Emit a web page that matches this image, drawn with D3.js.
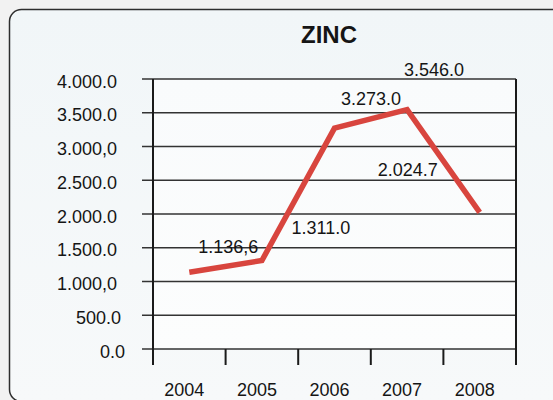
<!DOCTYPE html>
<html>
<head>
<meta charset="utf-8">
<script src="https://cdn.jsdelivr.net/npm/d3@7"></script>
<style>
  html, body { margin: 0; padding: 0; background: #f3f3f3; }
  svg { display: block; }
  text { font-family: "Liberation Sans", Arial, Helvetica, sans-serif; fill: #151515; }
</style>
</head>
<body>
<svg id="chart" width="553" height="400"></svg>
<script>
// Zinc, yearly figures
const title = "ZINC";
const years = ["2004", "2005", "2006", "2007", "2008"];
const values = [1136.6, 1311.0, 3273.0, 3546.0, 2024.7];
const valueLabels = ["1.136,6", "1.311.0", "3.273.0", "3.546.0", "2.024.7"];
const yTicks = [0, 500, 1000, 1500, 2000, 2500, 3000, 3500, 4000];
const yTickLabels = ["0.0", "500.0", "1.000,0", "1.500.0", "2.000.0", "2.500.0", "3.000,0", "3.500.0", "4.000.0"];

const svg = d3.select("#chart");
const W = 553, H = 400;

// plot frame
const plotLeft = 153, plotRight = 516, plotTop = 79, plotBottom = 349;
const tickDrop = 16, gridStart = 142;

const defs = svg.append("defs");
const bg = defs.append("linearGradient").attr("id", "panelBg")
  .attr("x1", 0).attr("y1", 0).attr("x2", 0).attr("y2", 1);
bg.append("stop").attr("offset", "0%").attr("stop-color", "#f1f6f8");
bg.append("stop").attr("offset", "100%").attr("stop-color", "#f7f9fa");

const plotBg = defs.append("linearGradient").attr("id", "plotBg")
  .attr("x1", 0).attr("y1", 0).attr("x2", 0).attr("y2", 1);
plotBg.append("stop").attr("offset", "0%").attr("stop-color", "#f9fbfc");
plotBg.append("stop").attr("offset", "100%").attr("stop-color", "#fcfdfd");

// outer backdrop
svg.append("rect").attr("width", W).attr("height", H).attr("fill", "#f2f2f2");

// rounded panel
svg.append("rect")
  .attr("x", 9.5).attr("y", 9.5)
  .attr("width", 620).attr("height", 392)
  .attr("rx", 12).attr("ry", 12)
  .attr("fill", "url(#panelBg)")
  .attr("stroke", "#2e2e2e").attr("stroke-width", 1.5);

const x = d3.scaleBand().domain(years).range([plotLeft, plotRight]).paddingInner(0).paddingOuter(0);
const y = d3.scaleLinear().domain([0, 4000]).range([plotBottom, plotTop]);

svg.append("rect")
  .attr("x", plotLeft).attr("y", y(4000))
  .attr("width", plotRight - plotLeft).attr("height", y(0) - y(4000))
  .attr("fill", "url(#plotBg)");

// title
svg.append("text")
  .attr("x", 329).attr("y", 43)
  .attr("text-anchor", "middle")
  .attr("font-size", 24).attr("font-weight", "bold")
  .text(title);

// horizontal grid lines with left tick stubs
svg.append("g").selectAll("line").data(yTicks).join("line")
  .attr("x1", gridStart).attr("x2", plotRight)
  .attr("y1", d => y(d)).attr("y2", d => y(d))
  .attr("stroke", "#333").attr("stroke-width", 1.6);

// y axis labels
svg.append("g").selectAll("text").data(yTicks).join("text")
  .attr("x", (d, i) => 117 + (7 - yTickLabels[i].length) * 2)
  .attr("y", d => y(d) + 8.7)
  .attr("text-anchor", "end")
  .attr("font-size", 18)
  .text((d, i) => yTickLabels[i]);

// category boundary ticks
const bounds = years.map(d => x(d)).concat([plotRight]);
svg.append("g").selectAll("line").data(bounds).join("line")
  .attr("x1", d => d).attr("x2", d => d)
  .attr("y1", (d, i) => (i === 0 || i === bounds.length - 1) ? y(4000) : y(0))
  .attr("y2", y(0) + tickDrop)
  .attr("stroke", "#1a1a1a").attr("stroke-width", 2);

// x axis labels
svg.append("g").selectAll("text").data(years).join("text")
  .attr("x", d => x(d) + x.bandwidth() / 2 - 5)
  .attr("y", 396)
  .attr("text-anchor", "middle")
  .attr("font-size", 18)
  .text(d => d);

// series line
const pts = years.map((d, i) => [x(d) + x.bandwidth() / 2, y(values[i])]);
svg.append("path")
  .attr("d", d3.line()(pts))
  .attr("fill", "none")
  .attr("stroke", "#d8453e")
  .attr("stroke-width", 5.5)
  .attr("stroke-linejoin", "miter");

// value labels, offset from their points
const labelShift = [[39, -19], [59, -27], [36.5, -23], [27, -34], [-72, -36]];
svg.append("g").selectAll("text").data(values).join("text")
  .attr("x", (d, i) => pts[i][0] + labelShift[i][0])
  .attr("y", (d, i) => y(d) + labelShift[i][1])
  .attr("text-anchor", "middle")
  .attr("font-size", 18)
  .text((d, i) => valueLabels[i]);
</script>
</body>
</html>
